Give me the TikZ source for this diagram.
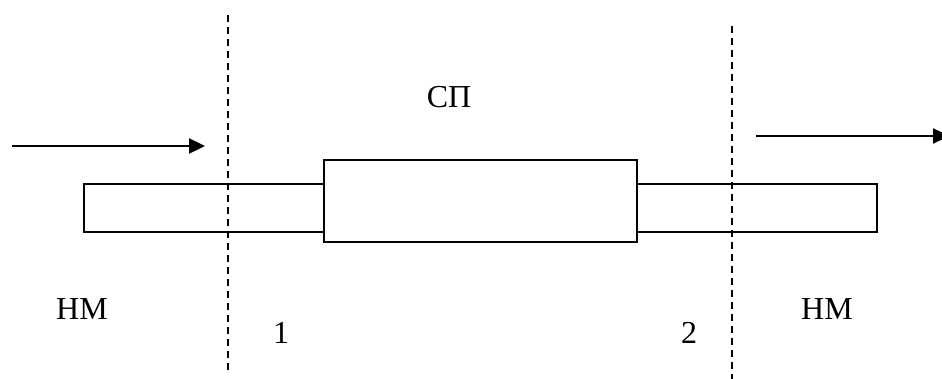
\documentclass[tikz,border=0pt]{standalone}
\usepackage{fontspec}
\setmainfont{Liberation Serif}
\usetikzlibrary{arrows.meta}
\begin{document}
\begin{tikzpicture}[x=1pt,y=-1pt,
  boxstyle/.style={draw, line width=2pt, inner sep=0pt, outer sep=0pt},
  bound/.style={line width=1.4pt, dash pattern=on 7pt off 5pt},
  flow/.style={line width=2.4pt, -{Triangle[length=16pt,width=15pt]}},
  lbl/.style={font=\fontsize{32}{38}\selectfont, inner sep=0pt}]
\useasboundingbox (0,0) rectangle (942,379);
\node[boxstyle, minimum width=240pt, minimum height=48pt] (lw) at (204,208) {};
\node[boxstyle, minimum width=240pt, minimum height=48pt] (rw) at (757,208) {};
\node[boxstyle, minimum width=313pt, minimum height=82pt] (mid) at (480.5,201) {};
\coordinate (d1a) at (228,15);  \coordinate (d1b) at (228,373);
\coordinate (d2a) at (732,26);  \coordinate (d2b) at (732,379);
\draw[bound] (d1a) -- (d1b);
\draw[bound] (d2a) -- (d2b);
\coordinate (a1s) at (12,146); \coordinate (a1e) at (205,146);
\coordinate (a2s) at (756,136); \coordinate (a2e) at (949,136);
\draw[flow] (a1s) -- (a1e);
\draw[flow] (a2s) -- (a2e);
\node[lbl] (sp) at (449,97) {СП};
\node[lbl] (nm1) at (82,309) {НМ};
\node[lbl] (n1) at (281,333) {1};
\node[lbl] (n2) at (689,333) {2};
\node[lbl] (nm2) at (827,309) {НМ};
\end{tikzpicture}
\end{document}
